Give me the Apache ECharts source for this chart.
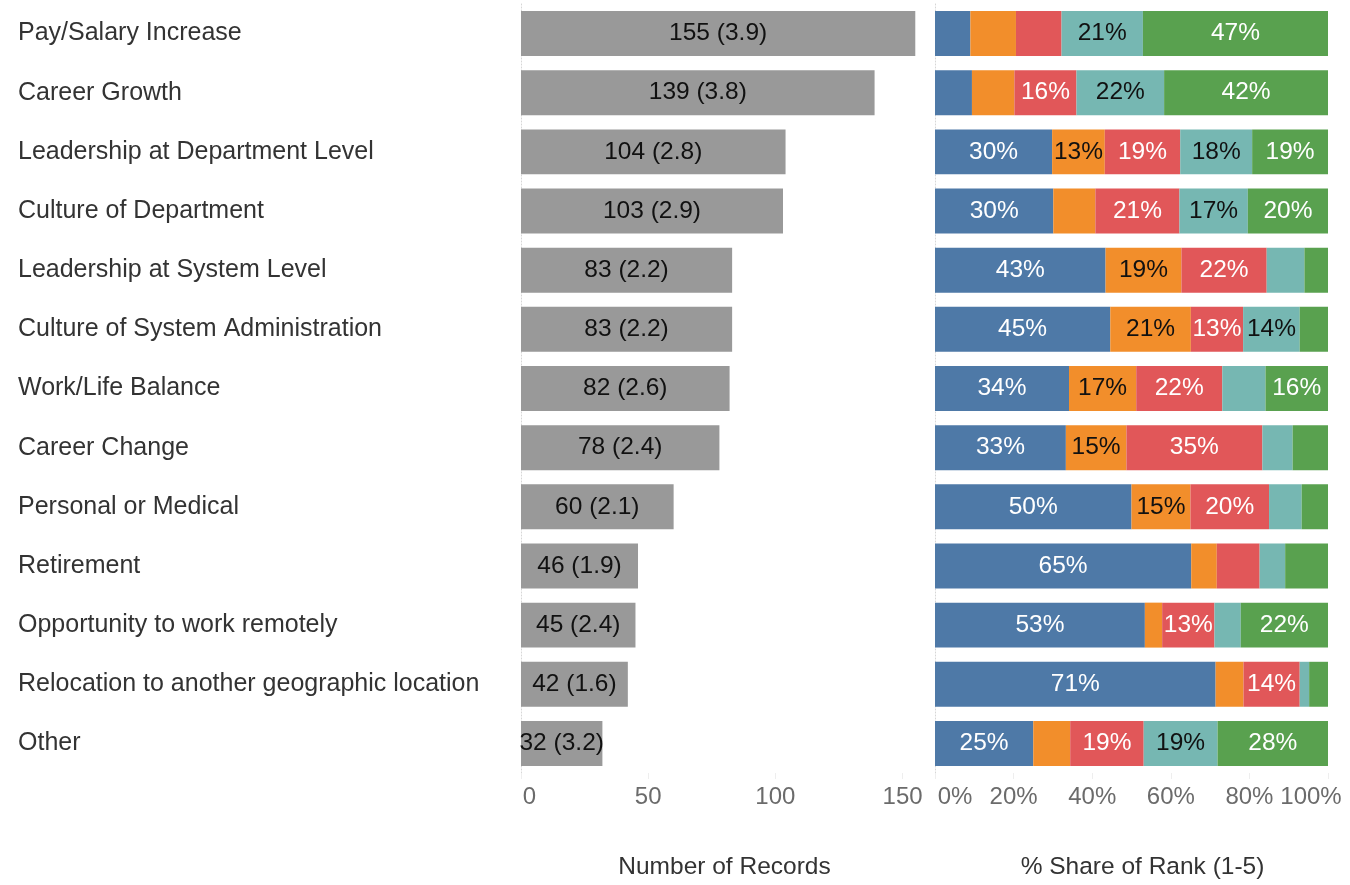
<!DOCTYPE html>
<html>
<head>
<meta charset="utf-8">
<script src="https://cdn.jsdelivr.net/npm/echarts@6/dist/echarts.min.js"></script>
<style>
  html, body { margin: 0; padding: 0; background: #fff; }
  #chart { width: 1350px; height: 885px; }
</style>
</head>
<body>
<div id="chart"></div>
<script>
// Reasons, top to bottom
const reasons = [
  'Pay/Salary Increase',
  'Career Growth',
  'Leadership at Department Level',
  'Culture of Department',
  'Leadership at System Level',
  'Culture of System Administration',
  'Work/Life Balance',
  'Career Change',
  'Personal or Medical',
  'Retirement',
  'Opportunity to work remotely',
  'Relocation to another geographic location',
  'Other'
];

// Number of records and average rank per reason
const recordCounts = [155, 139, 104, 103, 83, 83, 82, 78, 60, 46, 45, 42, 32];
const averageRank = [3.9, 3.8, 2.8, 2.9, 2.2, 2.2, 2.6, 2.4, 2.1, 1.9, 2.4, 1.6, 3.2];

// % share of each rank (1-5) per reason
const rank1 = [9.0, 9.4, 29.8, 30.1, 43.4, 44.6, 34.1, 33.3, 50.0, 65.2, 53.4, 71.4, 25.0];
const rank2 = [11.6, 10.8, 13.4, 10.7, 19.3, 20.5, 17.1, 15.4, 15.0, 6.5, 4.4, 7.1, 9.4];
const rank3 = [11.6, 15.8, 19.2, 21.4, 21.7, 13.3, 21.9, 34.6, 20.0, 10.9, 13.3, 14.3, 18.7];
const rank4 = [20.7, 22.3, 18.3, 17.4, 9.6, 14.4, 11.0, 7.7, 8.3, 6.5, 6.7, 2.4, 18.8];
const rank5 = [47.1, 41.7, 19.3, 20.4, 6.0, 7.2, 15.9, 9.0, 6.7, 10.9, 22.2, 4.8, 28.1];

const recordTicks = [0, 50, 100, 150];
const shareTicks = [0, 20, 40, 60, 80, 100];

const FONT = '"Liberation Sans", Arial, sans-serif';
const rankColors = ['#4e79a7', '#f28e2b', '#e15759', '#76b7b2', '#59a14f'];
const rankLabelColors = ['#ffffff', '#111111', '#ffffff', '#111111', '#ffffff'];
const rankData = [rank1, rank2, rank3, rank4, rank5];

const gridTop = 4;
const gridBottom = 110;

const chart = echarts.init(document.getElementById('chart'), null, { renderer: 'canvas' });

const dottedAxis = { show: true, lineStyle: { color: '#d6d6d6', type: [1, 2], width: 1 } };
const tickLabelStyle = { color: '#6b6b6b', fontSize: 24, fontFamily: FONT };

const rankSeries = rankData.map((values, i) => ({
  name: 'Rank ' + (i + 1),
  type: 'bar',
  stack: 'share',
  xAxisIndex: 1,
  yAxisIndex: 1,
  barCategoryGap: '24%',
  data: values,
  itemStyle: { color: rankColors[i] },
  label: {
    show: true,
    position: 'inside',
    color: rankLabelColors[i],
    fontSize: 24.5,
    fontFamily: FONT,
    padding: [4, 0, 0, 0],
    formatter: p => (p.value >= 12.5 ? Math.round(p.value) + '%' : '')
  },
  emphasis: { disabled: true }
}));

chart.setOption({
  animation: false,
  backgroundColor: '#ffffff',
  grid: [
    { left: 521, right: 422, top: gridTop, bottom: gridBottom },
    { left: 935, right: 22, top: gridTop, bottom: gridBottom }
  ],
  xAxis: [
    {
      gridIndex: 0,
      type: 'value',
      min: 0,
      max: 160,
      interval: 50,
      splitLine: { show: false },
      axisLine: { show: false },
      axisTick: { show: true, length: 6, lineStyle: { color: '#eeeeee' } },
      axisLabel: {
        ...tickLabelStyle,
        margin: 12,
        showMaxLabel: false,
        formatter: v => (recordTicks.includes(v) ? (v === 0 ? '{zero|0}' : String(v)) : ''),
        rich: { zero: { ...tickLabelStyle, padding: [0, 0, 0, 17] } }
      },
      name: 'Number of Records',
      nameLocation: 'middle',
      nameGap: 82,
      nameTextStyle: { color: '#333333', fontSize: 24.5, fontFamily: FONT }
    },
    {
      gridIndex: 1,
      type: 'value',
      min: 0,
      max: 100,
      interval: 20,
      splitLine: { show: false },
      axisLine: { show: false },
      axisTick: { show: true, length: 6, lineStyle: { color: '#eeeeee' } },
      axisLabel: {
        ...tickLabelStyle,
        margin: 12,
        formatter: v => {
          if (!shareTicks.includes(v)) return '';
          if (v === 0) return '{first|0%}';
          if (v === 100) return '{last|100%}';
          return v + '%';
        },
        rich: {
          first: { ...tickLabelStyle, padding: [0, 0, 0, 40] },
          last: { ...tickLabelStyle, padding: [0, 34, 0, 0] }
        }
      },
      name: '% Share of Rank (1-5)',
      nameLocation: 'middle',
      nameGap: 82,
      nameTextStyle: { color: '#333333', fontSize: 24.5, fontFamily: FONT, padding: [0, 0, 0, 22] }
    }
  ],
  yAxis: [
    {
      gridIndex: 0,
      type: 'category',
      inverse: true,
      data: reasons,
      axisLine: dottedAxis,
      axisTick: { show: false },
      axisLabel: {
        color: '#333333',
        fontSize: 25,
        fontFamily: FONT,
        align: 'left',
        margin: 503,
        padding: [6, 0, 0, 0]
      }
    },
    {
      gridIndex: 1,
      type: 'category',
      inverse: true,
      data: reasons,
      axisLine: dottedAxis,
      axisTick: { show: false },
      axisLabel: { show: false }
    }
  ],
  series: [
    {
      name: 'Number of Records',
      type: 'bar',
      xAxisIndex: 0,
      yAxisIndex: 0,
      barCategoryGap: '24%',
      data: recordCounts,
      itemStyle: { color: '#999999' },
      label: {
        show: true,
        position: 'inside',
        color: '#111111',
        fontSize: 24.5,
        fontFamily: FONT,
        padding: [4, 0, 0, 0],
        formatter: p => p.value + ' (' + averageRank[p.dataIndex].toFixed(1) + ')'
      },
      emphasis: { disabled: true }
    },
    ...rankSeries
  ]
});
</script>
</body>
</html>
